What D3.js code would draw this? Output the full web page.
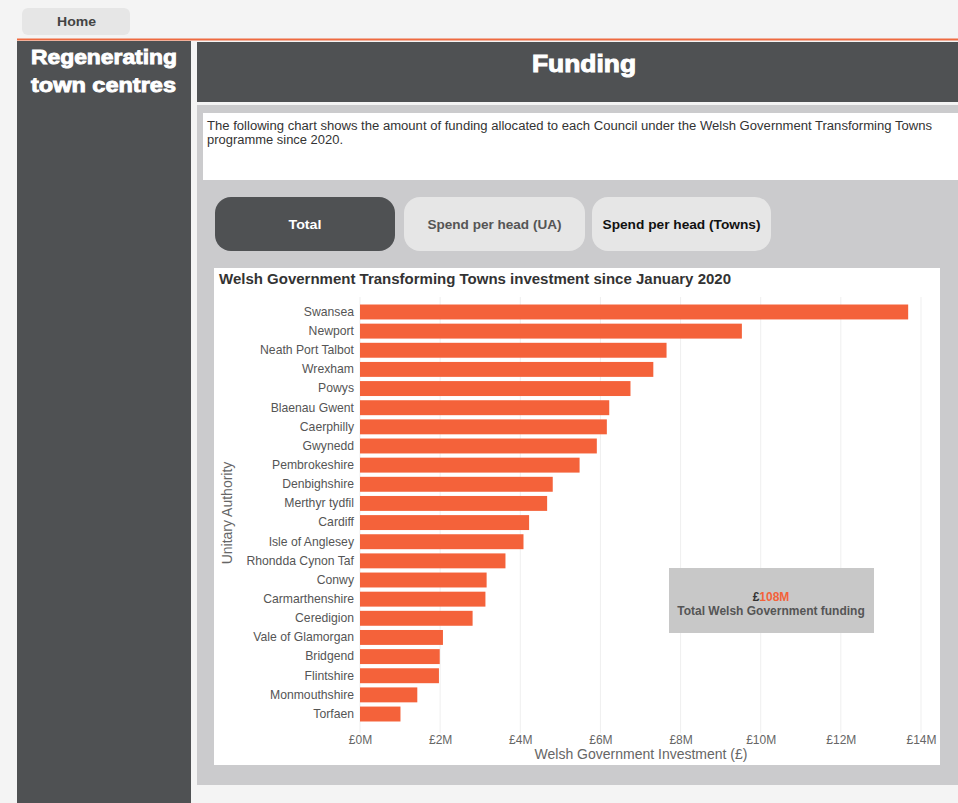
<!DOCTYPE html>
<html><head><meta charset="utf-8">
<script src="https://cdn.jsdelivr.net/npm/d3@7"></script>
<style>
body{margin:0;background:#f4f4f4;font-family:"Liberation Sans",Arial,sans-serif;}
svg{display:block;}
</style></head><body>
<svg id="c" width="958" height="803"></svg>
<script>
const councils = ["Swansea","Newport","Neath Port Talbot","Wrexham","Powys","Blaenau Gwent","Caerphilly","Gwynedd","Pembrokeshire","Denbighshire","Merthyr tydfil","Cardiff","Isle of Anglesey","Rhondda Cynon Taf","Conwy","Carmarthenshire","Ceredigion","Vale of Glamorgan","Bridgend","Flintshire","Monmouthshire","Torfaen"];
const investmentM = [13.68,9.53,7.65,7.32,6.75,6.22,6.16,5.91,5.48,4.81,4.67,4.22,4.08,3.63,3.16,3.13,2.81,2.07,1.99,1.97,1.43,1.01];
const xTicks = [0,2,4,6,8,10,12,14];
const buttons = ["Total","Spend per head (UA)","Spend per head (Towns)"];

const svg = d3.select("#c");
const F = "'Liberation Sans', Arial, sans-serif";
const dark = "#4f5153", orange = "#f4623a";

// page chrome
svg.append("rect").attr("x",0).attr("y",0).attr("width",958).attr("height",803).attr("fill","#f4f4f4");
svg.append("rect").attr("x",22).attr("y",8).attr("width",108).attr("height",27).attr("rx",6).attr("fill","#e6e6e6");
svg.append("text").attr("x",57).attr("y",26).attr("font-family",F).attr("font-weight","bold").attr("font-size",13.5).attr("fill","#444")
  .attr("textLength",39).attr("lengthAdjust","spacingAndGlyphs").text("Home");
svg.append("rect").attr("x",17).attr("y",38.5).attr("width",941).attr("height",2).attr("fill","#ee6a40");
svg.append("rect").attr("x",17).attr("y",41).attr("width",174).attr("height",762).attr("fill",dark);
svg.append("text").attr("x",31).attr("y",64).attr("font-family",F).attr("font-weight","bold").attr("font-size",20).attr("fill","#fff")
  .attr("stroke","#fff").attr("stroke-width",0.9).attr("textLength",146).attr("lengthAdjust","spacingAndGlyphs").text("Regenerating");
svg.append("text").attr("x",31).attr("y",92).attr("font-family",F).attr("font-weight","bold").attr("font-size",20).attr("fill","#fff")
  .attr("stroke","#fff").attr("stroke-width",0.9).attr("textLength",145).attr("lengthAdjust","spacingAndGlyphs").text("town centres");
svg.append("rect").attr("x",197).attr("y",42).attr("width",761).attr("height",60).attr("fill",dark);
svg.append("text").attr("x",532).attr("y",72).attr("font-family",F).attr("font-weight","bold").attr("font-size",24).attr("fill","#fff")
  .attr("stroke","#fff").attr("stroke-width",1).attr("textLength",104).attr("lengthAdjust","spacingAndGlyphs").text("Funding");

// grey panel
svg.append("rect").attr("x",197).attr("y",105).attr("width",761).attr("height",680).attr("fill","#cbcbcd");
svg.append("rect").attr("x",203).attr("y",113).attr("width",755).attr("height",67).attr("fill","#fff");
svg.append("text").attr("x",207).attr("y",130).attr("font-family",F).attr("font-size",12).attr("fill","#333").attr("textLength",725).attr("lengthAdjust","spacingAndGlyphs").text("The following chart shows the amount of funding allocated to each Council under the Welsh Government Transforming Towns");
svg.append("text").attr("x",207).attr("y",144).attr("font-family",F).attr("font-size",12).attr("fill","#333").attr("textLength",136).attr("lengthAdjust","spacingAndGlyphs").text("programme since 2020.");

// buttons
const bx = [215,404,592], bw = [180,181,179], tl = [33,134,158];
buttons.forEach((b,i)=>{
  svg.append("rect").attr("x",bx[i]).attr("y",197).attr("width",bw[i]).attr("height",54).attr("rx",16)
    .attr("fill", i===0?dark:"#e6e6e6");
  svg.append("text").attr("x",bx[i]+bw[i]/2).attr("y",229).attr("text-anchor","middle").attr("font-family",F)
    .attr("font-weight","bold").attr("font-size",13.5).attr("fill", i===0?"#fff":(i===1?"#555":"#111"))
    .attr("textLength",tl[i]).attr("lengthAdjust","spacingAndGlyphs").text(b);
});

// chart panel
svg.append("rect").attr("x",214).attr("y",268).attr("width",726).attr("height",497).attr("fill","#fff");
svg.append("text").attr("x",219).attr("y",284).attr("font-family",F).attr("font-weight","bold").attr("font-size",14).attr("fill","#333")
  .attr("textLength",512).attr("lengthAdjust","spacingAndGlyphs").text("Welsh Government Transforming Towns investment since January 2020");

const x = d3.scaleLinear().domain([0,14]).range([360,921]);
const y = d3.scaleBand().domain(councils).range([302.4,723.6]).paddingInner(0.22).paddingOuter(0.11);

const g = svg.append("g");
g.selectAll("line.grid").data(xTicks).join("line").attr("class","grid")
  .attr("x1",d=>x(d)).attr("x2",d=>x(d)).attr("y1",297).attr("y2",733)
  .attr("stroke","#efefef").attr("stroke-width",1);

g.selectAll("rect.bar").data(councils).join("rect").attr("class","bar")
  .attr("x",x(0)).attr("y",d=>y(d)).attr("height",y.bandwidth())
  .attr("width",(d,i)=>x(investmentM[i])-x(0)).attr("fill",orange);

const xAxis = d3.axisBottom(x).tickValues(xTicks).tickFormat(d=>"£"+d+"M").tickSize(0).tickPadding(0);
const xa = svg.append("g").attr("transform","translate(0,735)").call(xAxis);
xa.select(".domain").remove();
xa.selectAll("text").attr("font-family",F).attr("font-size",12).attr("fill","#666").attr("dy","0.71em");

const yAxis = d3.axisLeft(y).tickSize(0).tickPadding(6);
const ya = svg.append("g").attr("transform","translate(360,0)").call(yAxis);
ya.select(".domain").remove();
ya.selectAll("text").attr("font-family",F).attr("font-size",12.2).attr("fill","#555");

svg.append("text").attr("x",641).attr("y",759).attr("text-anchor","middle").attr("font-family",F).attr("font-size",14).attr("fill","#666").text("Welsh Government Investment (£)");
svg.append("text").attr("transform","translate(232,513) rotate(-90)").attr("text-anchor","middle").attr("font-family",F).attr("font-size",14).attr("fill","#666").text("Unitary Authority");

// callout
const total = d3.sum(investmentM);
svg.append("rect").attr("x",669).attr("y",568).attr("width",205).attr("height",65).attr("fill","#c8c8c8");
const t1 = svg.append("text").attr("x",771).attr("y",601).attr("text-anchor","middle").attr("font-family",F).attr("font-weight","bold").attr("font-size",12);
t1.append("tspan").attr("fill","#333").text("£");
t1.append("tspan").attr("fill",orange).text(Math.round(total)+"M");
svg.append("text").attr("x",771).attr("y",615).attr("text-anchor","middle").attr("font-family",F).attr("font-weight","bold").attr("font-size",12).attr("fill","#555").text("Total Welsh Government funding");
</script>
</body></html>
